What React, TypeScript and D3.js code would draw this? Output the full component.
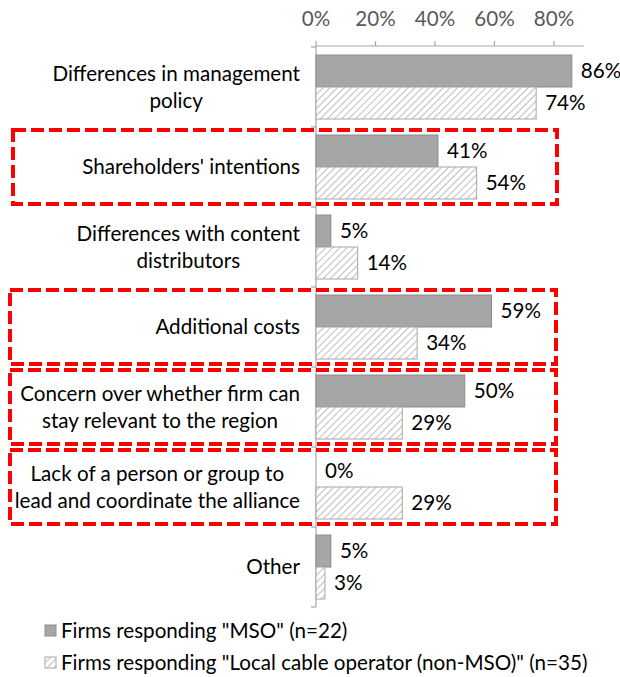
import React, { useEffect, useRef } from "react";
import * as d3 from "d3";

const categories = [
  ["Differences in management", "policy"],
  ["Shareholders' intentions"],
  ["Differences with content", "distributors"],
  ["Additional costs"],
  ["Concern over whether firm can", "stay relevant to the region"],
  ["Lack of a person or group to", "lead and coordinate the alliance"],
  ["Other"],
];
const categoryKeys = categories.map((c) => c.join(" "));
const mso = [0.86, 0.41, 0.05, 0.59, 0.5, 0, 0.05];
const local = [0.74, 0.54, 0.14, 0.34, 0.29, 0.29, 0.03];
const seriesKeys = ["mso", "local"];
const seriesNames = [
  'Firms responding "MSO" (n=22)',
  'Firms responding "Local cable operator (non-MSO)" (n=35)',
];
const xTicks = [0, 0.2, 0.4, 0.6, 0.8];
const highlighted = [1, 3, 4, 5];

const W = 620;
const H = 677;
const FONT = "Lato, 'Open Sans', sans-serif";

export default function App() {
  const ref = useRef<SVGSVGElement>(null);
  useEffect(() => {
    const svg = d3.select(ref.current);
    svg.selectAll("*").remove();

    // calibrate font size so the longest legend entry matches the reference width
    const probe = svg.append("text").attr("font-family", FONT).attr("font-size", 100)
      .text(seriesNames[1]);
    const pw = (probe.node() as SVGTextElement).getComputedTextLength();
    probe.remove();
    const FS = pw > 0 ? (527 / pw) * 100 : 20.6;

    const x = d3.scaleLinear().domain([0, 0.9]).range([316, 583.75]);
    const y = d3
      .scaleBand<string>()
      .domain(categoryKeys)
      .range([47, 607])
      .paddingInner(0.2)
      .paddingOuter(0.1);
    const sub = d3.scaleBand<string>().domain(seriesKeys).range([0, y.bandwidth()]);
    const step = y.step();
    const bandTop = (i: number) => (y(categoryKeys[i]) as number) - (step - y.bandwidth()) / 2;

    const defs = svg.append("defs");
    const pat = defs
      .append("pattern")
      .attr("id", "hatch")
      .attr("patternUnits", "userSpaceOnUse")
      .attr("width", 5)
      .attr("height", 5)
      .attr("patternTransform", "rotate(45)");
    pat.append("rect").attr("width", 5).attr("height", 5).attr("fill", "#ffffff");
    pat.append("line").attr("x1", 0).attr("y1", 0).attr("x2", 0).attr("y2", 5)
      .attr("stroke", "#b8b8b8").attr("stroke-width", 1.8);

    // top axis
    const ax = svg.append("g");
    ax.append("line").attr("x1", x(0)).attr("x2", x(0.9)).attr("y1", 46).attr("y2", 46)
      .attr("stroke", "#a6a6a6").attr("stroke-width", 1.2);
    xTicks.forEach((t) => {
      ax.append("line").attr("x1", x(t)).attr("x2", x(t)).attr("y1", 41).attr("y2", 46)
        .attr("stroke", "#a6a6a6").attr("stroke-width", 1.2);
      ax.append("text").attr("x", x(t)).attr("y", 26).attr("text-anchor", "middle")
        .attr("font-family", FONT).attr("font-size", FS).attr("fill", "#595959")
        .text(d3.format(".0%")(t));
    });
    ax.append("line").attr("x1", x(0)).attr("x2", x(0)).attr("y1", 46).attr("y2", 607)
      .attr("stroke", "#a6a6a6").attr("stroke-width", 1.2);
    for (let i = 0; i <= categoryKeys.length; i++) {
      const yy = i < categoryKeys.length ? bandTop(i) : bandTop(i - 1) + step;
      ax.append("line").attr("x1", x(0) - 5).attr("x2", x(0)).attr("y1", yy).attr("y2", yy)
        .attr("stroke", "#a6a6a6").attr("stroke-width", 1.2);
    }

    // bars
    const series = [mso, local];
    series.forEach((vals, si) => {
      vals.forEach((v, i) => {
        const y0 = (y(categoryKeys[i]) as number) + (sub(seriesKeys[si]) as number);
        if (v > 0) {
          svg.append("rect").attr("x", x(0)).attr("y", y0).attr("width", x(v) - x(0))
            .attr("height", sub.bandwidth())
            .attr("fill", si === 0 ? "#a6a6a6" : "url(#hatch)")
            .attr("stroke", si === 0 ? "#8c8c8c" : "#a6a6a6").attr("stroke-width", 1);
        }
        svg.append("text").attr("x", x(v) + 9).attr("y", y0 + sub.bandwidth() / 2)
          .attr("dy", "0.35em").attr("font-family", FONT).attr("font-size", FS)
          .attr("fill", "#000").text(d3.format(".0%")(v));
      });
    });

    // category labels
    const lineH = 27;
    categories.forEach((lines, i) => {
      const cy = (y(categoryKeys[i]) as number) + y.bandwidth() / 2;
      const g = svg.append("g");
      const texts = lines.map((l, li) =>
        g.append("text")
          .attr("y", cy + (li - (lines.length - 1) / 2) * lineH)
          .attr("dy", "0.35em").attr("font-family", FONT).attr("font-size", FS)
          .attr("fill", "#000").attr("text-anchor", "middle").text(l)
      );
      const widths = texts.map((t) => (t.node() as SVGTextElement).getComputedTextLength());
      const maxW = Math.max(...widths);
      texts.forEach((t) => t.attr("x", 300 - maxW / 2));
    });

    // highlight boxes
    highlighted.forEach((i) => {
      const top = bandTop(i) + 3;
      svg.append("rect").attr("x", i === 1 ? 13 : 10).attr("y", top)
        .attr("width", (i === 1 ? 557 : 556) - (i === 1 ? 13 : 10))
        .attr("height", step - 6)
        .attr("fill", "none").attr("stroke", "#ff0000").attr("stroke-width", 4)
        .attr("stroke-dasharray", "13,5");
    });

    // legend
    const lg = svg.append("g");
    [0, 1].forEach((k) => {
      const ly = 631 + k * 32;
      lg.append("rect").attr("x", 45).attr("y", ly - 6).attr("width", 11).attr("height", 11)
        .attr("fill", k === 0 ? "#a6a6a6" : "url(#hatch)")
        .attr("stroke", k === 0 ? "#8c8c8c" : "#a6a6a6");
      lg.append("text").attr("x", 61).attr("y", ly).attr("dy", "0.35em")
        .attr("font-family", FONT).attr("font-size", FS).attr("fill", "#000")
        .text(seriesNames[k]);
    });
  }, []);
  return (
    <svg ref={ref} width={W} height={H}
      style={{ position: "absolute", left: 0, top: 0, background: "#fff" }} />
  );
}
